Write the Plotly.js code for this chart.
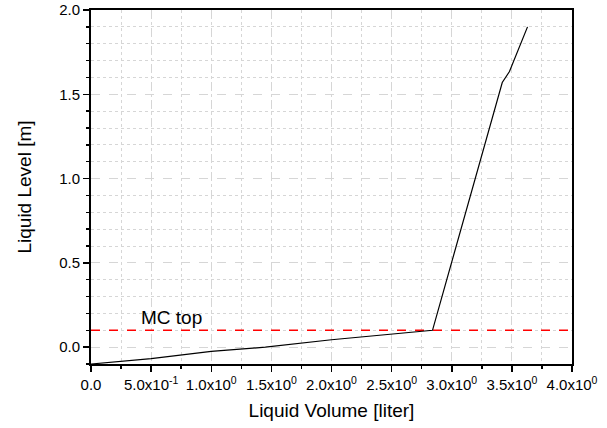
<!DOCTYPE html>
<html>
<head>
<meta charset="utf-8">
<script src="https://cdn.plot.ly/plotly-3.0.1.min.js"></script>
<style>html,body{margin:0;padding:0;background:#fff;}#chart{width:607px;height:428px;}</style>
</head>
<body>
<div id="chart"></div>
<script>
// Liquid volume [liter] vs liquid level [m]
const volume = [0.0, 0.5, 1.0, 1.45, 2.0, 2.5, 2.84, 3.42, 3.48, 3.63];
const level  = [-0.1, -0.068, -0.025, 0.0, 0.044, 0.075, 0.1, 1.57, 1.635, 1.9];

const mcTopLevel = 0.1;
const mcTopLabel = "MC top";

const xTickVals = [0.0, 0.5, 1.0, 1.5, 2.0, 2.5, 3.0, 3.5, 4.0];
const xTickText = ["0.0", "5.0x10<sup>-1</sup>", "1.0x10<sup>0</sup>", "1.5x10<sup>0</sup>", "2.0x10<sup>0</sup>",
                   "2.5x10<sup>0</sup>", "3.0x10<sup>0</sup>", "3.5x10<sup>0</sup>", "4.0x10<sup>0</sup>"];
const xRange = [0, 4];
const yRange = [-0.1, 2.0];

const font = "Liberation Sans, Arial, sans-serif";

const traces = [
  {
    x: xRange, y: [mcTopLevel, mcTopLevel],
    mode: "lines", line: {color: "#ff0000", width: 1.5, dash: "dash"},
    hoverinfo: "skip", showlegend: false
  },
  {
    x: volume, y: level,
    mode: "lines", line: {color: "#000000", width: 1.2},
    showlegend: false
  }
];

const gridCol = "#d6d6d6";
const layout = {
  width: 607, height: 428,
  margin: {l: 91, r: 35, t: 10, b: 64},
  paper_bgcolor: "#ffffff", plot_bgcolor: "#ffffff",
  font: {family: font, color: "#000", size: 15},
  showlegend: false,
  xaxis: {
    range: xRange, tickmode: "array", tickvals: xTickVals, ticktext: xTickText,
    ticks: "outside", ticklen: 6, tickwidth: 1.5, tickcolor: "#000",
    showline: true, linecolor: "#000", linewidth: 2, mirror: true,
    showgrid: true, gridcolor: gridCol, griddash: "dash", gridwidth: 1,
    zeroline: false,
    minor: {dtick: 0.25, tick0: 0, ticks: "outside", ticklen: 3, tickwidth: 1.5, tickcolor: "#000",
            showgrid: true, gridcolor: gridCol, griddash: "dot", gridwidth: 1},
    tickfont: {size: 15, family: font},
    title: {text: "Liquid Volume [liter]", font: {size: 19, family: font}, standoff: 12}
  },
  yaxis: {
    range: yRange, tickmode: "linear", tick0: 0, dtick: 0.5, tickformat: ".1f",
    ticks: "outside", ticklen: 6, tickwidth: 1.5, tickcolor: "#000",
    showline: true, linecolor: "#000", linewidth: 2, mirror: true,
    showgrid: true, gridcolor: gridCol, griddash: "dash", gridwidth: 1,
    zeroline: false,
    minor: {dtick: 0.1, tick0: 0, ticks: "outside", ticklen: 3, tickwidth: 1.5, tickcolor: "#000",
            showgrid: true, gridcolor: gridCol, griddash: "dot", gridwidth: 1},
    tickfont: {size: 15, family: font},
    title: {text: "Liquid Level [m]", font: {size: 19, family: font}, standoff: 22}
  },
  annotations: [
    {x: 0.67, y: mcTopLevel, xref: "x", yref: "y", text: mcTopLabel, showarrow: false,
     yanchor: "bottom", yshift: 0, font: {size: 19, family: font, color: "#000"}}
  ]
};

Plotly.newPlot("chart", traces, layout, {displayModeBar: false, staticPlot: true});
</script>
</body>
</html>
